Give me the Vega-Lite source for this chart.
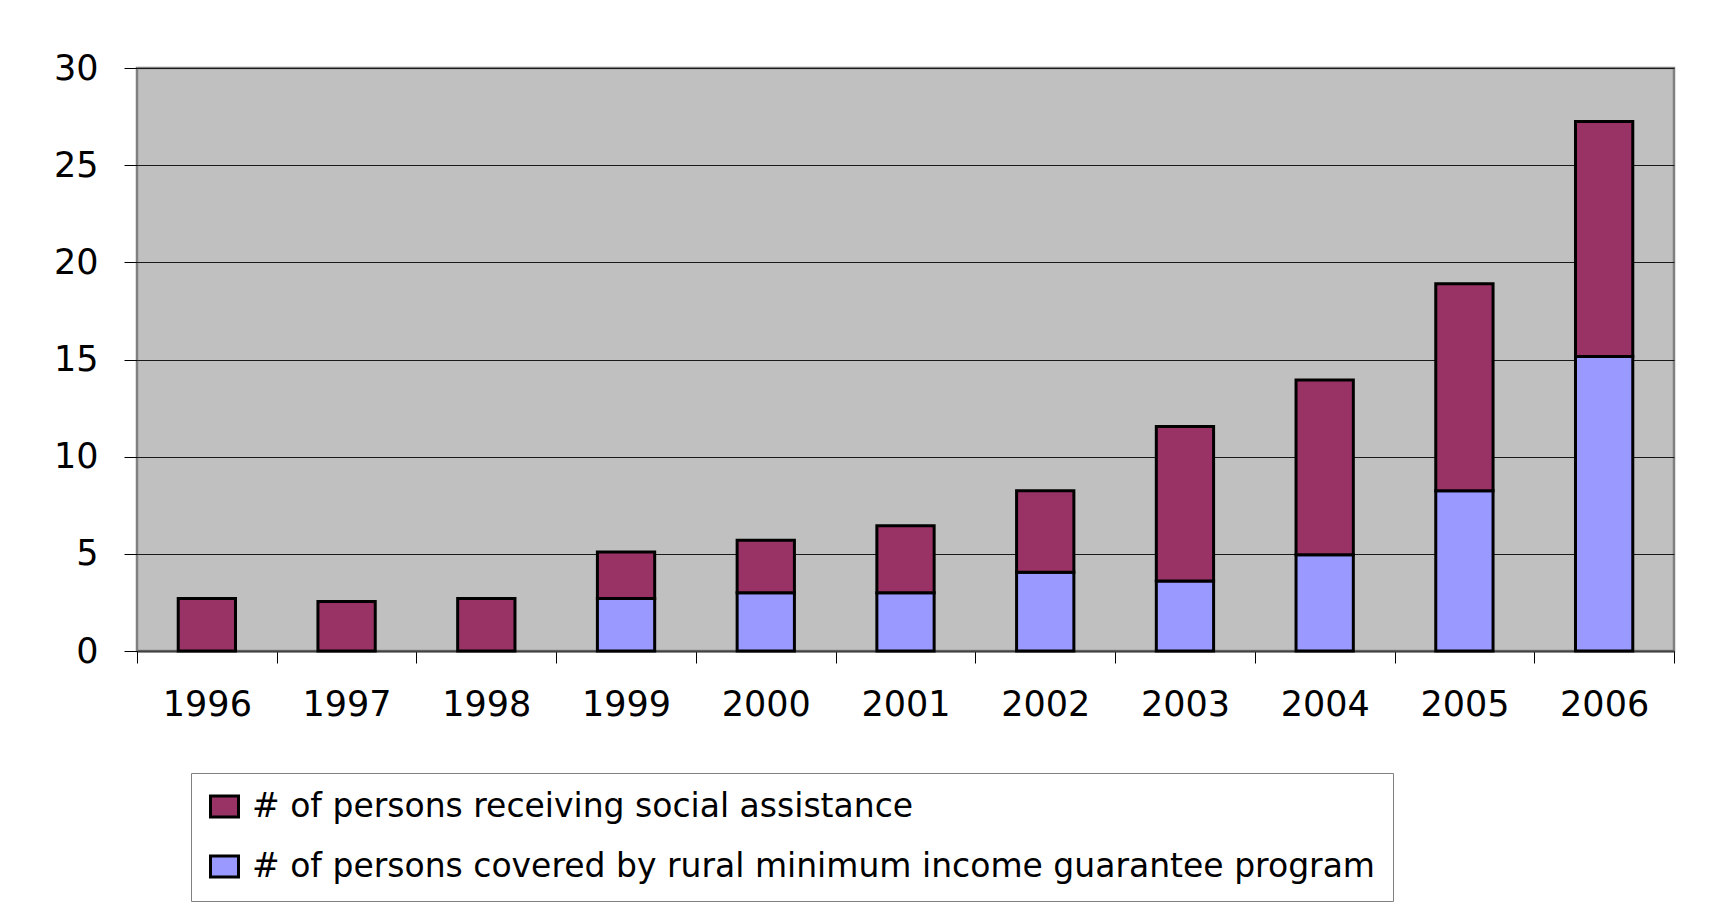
{
  "$schema": "https://vega.github.io/schema/vega-lite/v6.json",
  "width": 1537,
  "height": 583,
  "autosize": {"type": "none"},
  "padding": {"left": 137, "top": 68, "right": 39, "bottom": 261},
  "background": "#ffffff",
  "data": {
    "values": [
      {"year": "1996", "series": "# of persons receiving social assistance", "persons": 2.7},
      {"year": "1997", "series": "# of persons receiving social assistance", "persons": 2.55},
      {"year": "1998", "series": "# of persons receiving social assistance", "persons": 2.7},
      {"year": "1999", "series": "# of persons covered by rural minimum income guarantee program", "persons": 2.7},
      {"year": "1999", "series": "# of persons receiving social assistance", "persons": 2.4},
      {"year": "2000", "series": "# of persons covered by rural minimum income guarantee program", "persons": 3.0},
      {"year": "2000", "series": "# of persons receiving social assistance", "persons": 2.7},
      {"year": "2001", "series": "# of persons covered by rural minimum income guarantee program", "persons": 3.0},
      {"year": "2001", "series": "# of persons receiving social assistance", "persons": 3.45},
      {"year": "2002", "series": "# of persons covered by rural minimum income guarantee program", "persons": 4.05},
      {"year": "2002", "series": "# of persons receiving social assistance", "persons": 4.2},
      {"year": "2003", "series": "# of persons covered by rural minimum income guarantee program", "persons": 3.6},
      {"year": "2003", "series": "# of persons receiving social assistance", "persons": 7.95},
      {"year": "2004", "series": "# of persons covered by rural minimum income guarantee program", "persons": 4.95},
      {"year": "2004", "series": "# of persons receiving social assistance", "persons": 9.0},
      {"year": "2005", "series": "# of persons covered by rural minimum income guarantee program", "persons": 8.25},
      {"year": "2005", "series": "# of persons receiving social assistance", "persons": 10.65},
      {"year": "2006", "series": "# of persons covered by rural minimum income guarantee program", "persons": 15.15},
      {"year": "2006", "series": "# of persons receiving social assistance", "persons": 12.1}
    ]
  },
  "mark": {"type": "bar", "width": {"band": 0.41}, "stroke": "#000000", "strokeWidth": 3},
  "encoding": {
    "x": {
      "field": "year",
      "type": "ordinal",
      "scale": {"paddingInner": 0, "paddingOuter": 0},
      "axis": {
        "title": null,
        "labelAngle": 0,
        "tickBand": "extent",
        "tickSize": 12,
        "tickColor": "#000000",
        "labelFont": "DejaVu Sans",
        "labelFontSize": 35,
        "labelColor": "#000000",
        "labelPadding": 24,
        "domain": true,
        "domainColor": "#404040",
        "domainWidth": 2,
        "grid": false
      }
    },
    "y": {
      "field": "persons",
      "type": "quantitative",
      "stack": "zero",
      "scale": {"domain": [0, 30], "nice": false},
      "axis": {
        "title": null,
        "values": [0, 5, 10, 15, 20, 25, 30],
        "grid": true,
        "gridColor": "#1a1a1a",
        "gridWidth": 1,
        "tickSize": 13,
        "tickColor": "#000000",
        "labelFont": "DejaVu Sans",
        "labelFontSize": 35,
        "labelColor": "#000000",
        "labelPadding": 26,
        "domain": false
      }
    },
    "color": {
      "field": "series",
      "type": "nominal",
      "scale": {
        "domain": ["# of persons receiving social assistance", "# of persons covered by rural minimum income guarantee program"],
        "range": ["#993366", "#9999ff"]
      },
      "legend": {
        "title": null,
        "orient": "none",
        "legendX": 54,
        "legendY": 705,
        "direction": "vertical",
        "fillColor": "#ffffff",
        "strokeColor": "#808080",
        "padding": 17,
        "symbolType": "M-1,-0.75H1V0.75H-1Z",
        "symbolSize": 784,
        "symbolStrokeColor": "#000000",
        "symbolStrokeWidth": 3,
        "symbolOpacity": 1,
        "labelFont": "DejaVu Sans",
        "labelFontSize": 33,
        "labelColor": "#000000",
        "labelOffset": 11,
        "labelLimit": 3000,
        "rowPadding": 26
      }
    },
    "order": {"field": "series", "sort": "ascending"}
  },
  "config": {
    "view": {"fill": "#c0c0c0", "stroke": "#808080", "strokeWidth": 2.5}
  }
}
